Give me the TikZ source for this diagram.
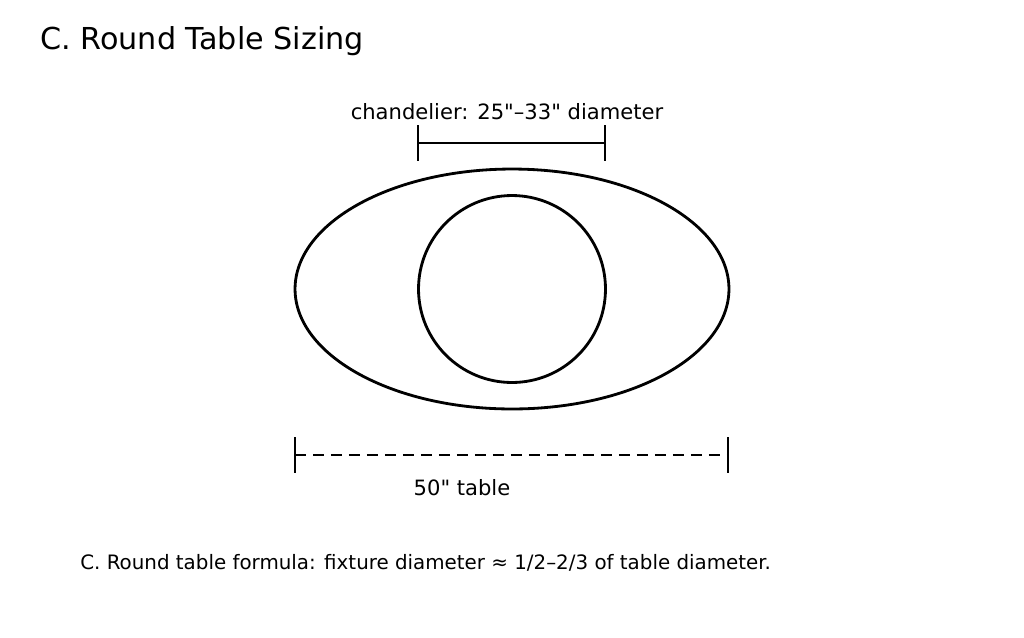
\documentclass[tikz,border=0pt]{standalone}
\usepackage{fontspec}
\setmainfont{DejaVu Sans}[Ligatures=TeXOff]
\usetikzlibrary{positioning}
\usetikzlibrary{shapes.geometric}
\tikzset{
    x=0.02cm, y=-0.02cm, % one unit is one pixel of the sketch
    outline/.style={ % table and chandelier outlines
        draw,
        line width=1.6pt
    },
    dimline/.style={ % dimension bars
        line width=1.3pt
    },
    note/.style={ % handwritten labels
        inner sep=0pt,
        font=\fontsize{12}{14}\selectfont
    }
}
\begin{document}
\begin{tikzpicture}
    \useasboundingbox (0,0) rectangle (1024,637);

    \node[note, anchor=west, font=\fontsize{17.2}{20}\selectfont] (title) at (40,41) {C. Round Table Sizing};

    \node[outline, ellipse, inner sep=0pt,
          minimum width=8.68cm, minimum height=4.8cm] (table) at (512,289) {};
    \node[outline, circle, inner sep=0pt, minimum size=3.74cm] (chand) at (512,289) {};

    % chandelier bar
    \coordinate (cl) at (418,143);
    \coordinate (cr) at (605,143);
    \draw[dimline] (cl) -- (cr);
    \draw[dimline] ([yshift=-10]cl) -- ([yshift=10]cl);
    \draw[dimline] ([yshift=-10]cr) -- ([yshift=10]cr);
    \node[note] (chandlabel) at (507,112) {chandelier: 25"–33" diameter};

    % table bar
    \coordinate (tl) at (295,455);
    \coordinate (tr) at (728,455);
    \draw[dimline, dash pattern=on 0.22cm off 0.14cm] (tl) -- (tr);
    \draw[dimline] ([yshift=-10]tl) -- ([yshift=10]tl);
    \draw[dimline] ([yshift=-10]tr) -- ([yshift=10]tr);
    \node[note] (tablelabel) at (462,488) {50" table};

    \node[note, anchor=west, font=\fontsize{11.3}{13}\selectfont] (formula) at (80,563)
        {C. Round table formula: fixture diameter ≈ 1/2–2/3 of table diameter.};
\end{tikzpicture}
\end{document}
